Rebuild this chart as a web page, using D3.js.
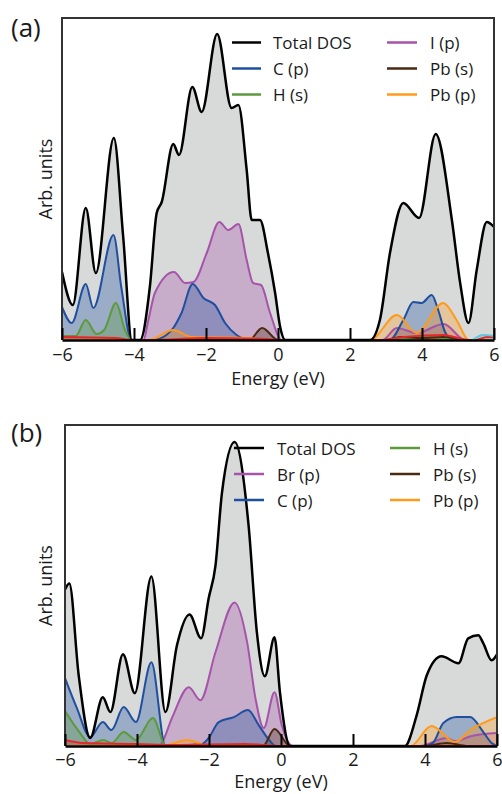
<!DOCTYPE html>
<html><head><meta charset="utf-8">
<script src="https://cdn.jsdelivr.net/npm/d3@7"></script>
<style>
body{margin:0;background:#fff}
svg{display:block}
text{font-family:"Open Sans","Noto Sans",sans-serif;fill:#1a1a1a}
</style>
</head><body>
<svg id="chart" width="502" height="794"></svg>
<script>
// ---------- data (energy in eV, DOS in arbitrary units) ----------
const energyTicks = [-6, -4, -2, 0, 2, 4, 6];

// Panel (a)
const totalA = [[-6,68],[-5.70,35],[-5.34,132],[-5.06,67],[-4.56,202],[-4.30,103],[-4.06,0],[-3.83,0],[-3.56,53],[-3.37,127],[-3.23,138],[-2.91,196],[-2.75,185],[-2.38,253],[-2.12,228],[-1.69,306],[-1.29,232],[-1.10,235],[-0.87,170],[-0.73,120],[-0.50,120],[-0.28,87],[-0.08,47],[0.06,13],[0.20,0],[2.56,0],[2.83,20],[3.11,87],[3.48,137],[3.92,122],[4.38,206],[4.83,120],[5.06,57],[5.29,17],[5.52,70],[5.80,118],[6.00,113]];
const cpA = [[-6,33],[-5.73,17],[-5.34,56],[-5.13,32],[-4.57,105],[-4.35,52],[-4.07,0],[-3.47,0],[-3.10,5],[-2.91,12],[-2.68,27],[-2.37,56],[-2.07,42],[-1.75,35],[-1.47,17],[-1.15,5],[-0.80,0],[3.10,0],[3.48,20],[3.76,38],[3.99,37],[4.27,45],[4.45,30],[4.64,8],[4.85,0],[6,0]];
const hsA = [[-6,4],[-5.62,4],[-5.34,20],[-5.04,6],[-4.83,10],[-4.50,37],[-4.25,10],[-4.07,0],[3.20,0],[4.20,3],[5.00,0],[6,0]];
const ipA = [[-6,0],[-3.74,0],[-3.60,20],[-3.42,47],[-2.89,68],[-2.58,57],[-2.35,58],[-1.98,87],[-1.63,118],[-1.38,110],[-1.10,116],[-0.87,80],[-0.69,57],[-0.47,55],[-0.22,27],[0.10,0],[2.90,0],[3.30,12],[3.85,7],[4.60,16],[5.20,0],[6,0]];
const pbsA = [[-6,0],[-0.80,0],[-0.44,12],[0.00,0],[3.00,0],[3.40,3],[4.00,2],[4.60,3],[5.20,0],[6,0]];
const pbpA = [[-6,0],[-3.60,0],[-2.91,10],[-2.40,3],[-0.80,2],[-0.40,0],[2.56,0],[3.30,25],[3.85,7],[4.59,37],[4.96,20],[5.30,0],[6,0]];
const redA = [[-6,3],[-4.5,2],[-4.07,0],[-3.5,0],[-2,2],[-0.3,1],[0,0],[2.8,0],[3.5,3],[4.6,5],[5.3,0],[5.5,0],[5.8,3],[6,3]];
const cyanA = [[5.4,0],[5.7,5],[6,4]];

// Panel (b)
const totalB = [[-6,157],[-5.88,163],[-5.62,71],[-5.30,8],[-4.95,49],[-4.74,34],[-4.39,92],[-4.06,53],[-3.60,170],[-3.21,34],[-2.89,101],[-2.54,132],[-2.22,108],[-2.01,148],[-1.82,181],[-1.64,254],[-1.29,305],[-0.90,221],[-0.67,114],[-0.45,70],[-0.18,109],[-0.03,54],[0.25,0],[3.44,0],[3.77,31],[4.05,71],[4.46,90],[4.93,83],[5.20,108],[5.48,111],[5.62,103],[5.85,86],[6.00,92]];
const brpB = [[-6,0],[-3.40,0],[-3.33,2],[-3.03,28],[-2.56,59],[-2.24,46],[-1.82,94],[-1.29,144],[-0.94,104],[-0.71,48],[-0.48,18],[-0.18,54],[0.02,21],[0.33,0],[3.85,0],[4.60,8],[4.83,5],[5.30,10],[6,13]];
const cpB = [[-6,68],[-5.67,38],[-5.30,9],[-4.95,24],[-4.71,16],[-4.37,39],[-4.03,24],[-3.60,84],[-3.21,0],[-2.20,2],[-2.01,8],[-1.73,24],[-1.31,29],[-0.92,36],[-0.62,21],[-0.33,6],[-0.15,0],[4.00,0],[4.22,3],[4.51,23],[4.88,29],[5.25,29],[5.62,14],[5.85,3],[6,0]];
const hsB = [[-6,35],[-5.60,14],[-5.30,2],[-4.93,6],[-4.70,3],[-4.37,14],[-4.03,6],[-3.56,28],[-3.20,0],[6,0]];
const pbsB = [[-6,0],[-0.50,0],[-0.18,17],[0.25,0],[4.00,0],[4.60,3],[5.20,0],[6,0]];
const pbpB = [[-6,0],[-3.30,0],[-2.60,6],[-2.00,0],[3.60,0],[4.18,20],[4.83,4],[5.30,17],[6,29]];
const redB = [[-6,6],[-5.5,3],[-4,2],[-3,1],[-1,2],[0,0],[6,0]];

const legendA = [["Total DOS","total"],["C (p)","blue"],["H (s)","green"],["I (p)","purple"],["Pb (s)","brown"],["Pb (p)","orange"]];
const legendB = [["Total DOS","total"],["Br (p)","purple"],["C (p)","blue"],["H (s)","green"],["Pb (s)","brown"],["Pb (p)","orange"]];

// ---------- styling ----------
const colors = {total:"#000000", blue:"#1f4f9f", green:"#5c9a3c", purple:"#a653ab", brown:"#4b2a12", orange:"#ff9a1a", red:"#e8262a", cyan:"#5cc8e0"};
const totalFill = "#d8dada";

const panels = [
  {label:"(a)", left:62, right:494, top:18, bottom:340, tickPad:8, labelY:37, titleY:385,
   total: totalA,
   partials:[[ipA,"purple"],[cpA,"blue"],[hsA,"green"],[pbsA,"brown"],[pbpA,"orange"],[redA,"red"],[cyanA,"cyan"]],
   legend: legendA, leg:{x1:232,x2:261,tx:273,x1b:387,x2b:417,txb:430,y0:42.5,dy:26}},
  {label:"(b)", left:65, right:497, top:425, bottom:746, tickPad:7, labelY:442, titleY:788,
   total: totalB,
   partials:[[brpB,"purple"],[cpB,"blue"],[hsB,"green"],[pbsB,"brown"],[pbpB,"orange"],[redB,"red"]],
   legend: legendB, leg:{x1:234,x2:264,tx:277,x1b:390,x2b:420,txb:433,y0:448,dy:26}}
];

const svg = d3.select("#chart");

panels.forEach((p, pi) => {
  const x = d3.scaleLinear().domain([-6, 6]).range([p.left, p.right]);
  const y = d3.scaleLinear().domain([0, 322]).range([p.bottom, p.top]);
  const g = svg.append("g");
  const clipId = "clip" + pi;
  svg.append("clipPath").attr("id", clipId).append("rect")
    .attr("x", p.left).attr("y", p.top).attr("width", p.right - p.left).attr("height", p.bottom - p.top);
  const plot = g.append("g").attr("clip-path", `url(#${clipId})`);

  const area = d3.area().x(d => x(d[0])).y0(y(0)).y1(d => y(d[1])).curve(d3.curveMonotoneX);
  const line = d3.line().x(d => x(d[0])).y(d => y(d[1])).curve(d3.curveMonotoneX);

  plot.append("path").datum(p.total).attr("d", area).attr("fill", totalFill);
  p.partials.forEach(([data, c]) => {
    plot.append("path").datum(data).attr("d", area).attr("fill", colors[c]).attr("fill-opacity", 0.33);
  });
  p.partials.forEach(([data, c]) => {
    plot.append("path").datum(data).attr("d", line).attr("fill", "none")
      .attr("stroke", colors[c]).attr("stroke-width", 2);
  });
  plot.append("path").datum(p.total).attr("d", line).attr("fill", "none")
    .attr("stroke", "#000").attr("stroke-width", 2.5);

  // frame
  g.append("path")
    .attr("d", `M${p.left},${p.bottom}V${p.top}H${p.right}V${p.bottom}`)
    .attr("fill", "none").attr("stroke", "#333").attr("stroke-width", 2);

  // x axis with inward ticks
  const ax = g.append("g").attr("transform", `translate(0,${p.bottom})`)
    .call(d3.axisBottom(x).tickValues(energyTicks).tickSize(-12).tickSizeOuter(0).tickPadding(p.tickPad)
      .tickFormat(d3.format("d")));
  ax.select(".domain").attr("stroke", "#000").attr("stroke-width", 2.5);
  ax.selectAll(".tick line").attr("stroke", "#000").attr("stroke-width", 2);
  ax.selectAll(".tick text").attr("font-size", 18).attr("fill", "#1a1a1a")
    .style("font-family", '"Open Sans","Noto Sans",sans-serif');

  // axis titles
  g.append("text").attr("x", x(0)).attr("y", p.titleY).attr("text-anchor", "middle")
    .attr("font-size", 18).text("Energy (eV)");
  g.append("text").attr("transform", `translate(52,${(p.top + p.bottom) / 2}) rotate(-90)`)
    .attr("text-anchor", "middle").attr("font-size", 18).text("Arb. units");
  g.append("text").attr("x", 11).attr("y", p.labelY).attr("font-size", 26).text(p.label);

  // legend
  const L = p.leg;
  p.legend.forEach(([name, c], i) => {
    const col = i < 3 ? 0 : 1, row = i % 3;
    const yy = L.y0 + row * L.dy;
    const x1 = col ? L.x1b : L.x1, x2 = col ? L.x2b : L.x2, tx = col ? L.txb : L.tx;
    g.append("line").attr("x1", x1).attr("x2", x2).attr("y1", yy).attr("y2", yy)
      .attr("stroke", colors[c]).attr("stroke-width", 2.5);
    g.append("text").attr("x", tx).attr("y", yy + 6.5).attr("font-size", 17).text(name);
  });
});
</script>
</body></html>
